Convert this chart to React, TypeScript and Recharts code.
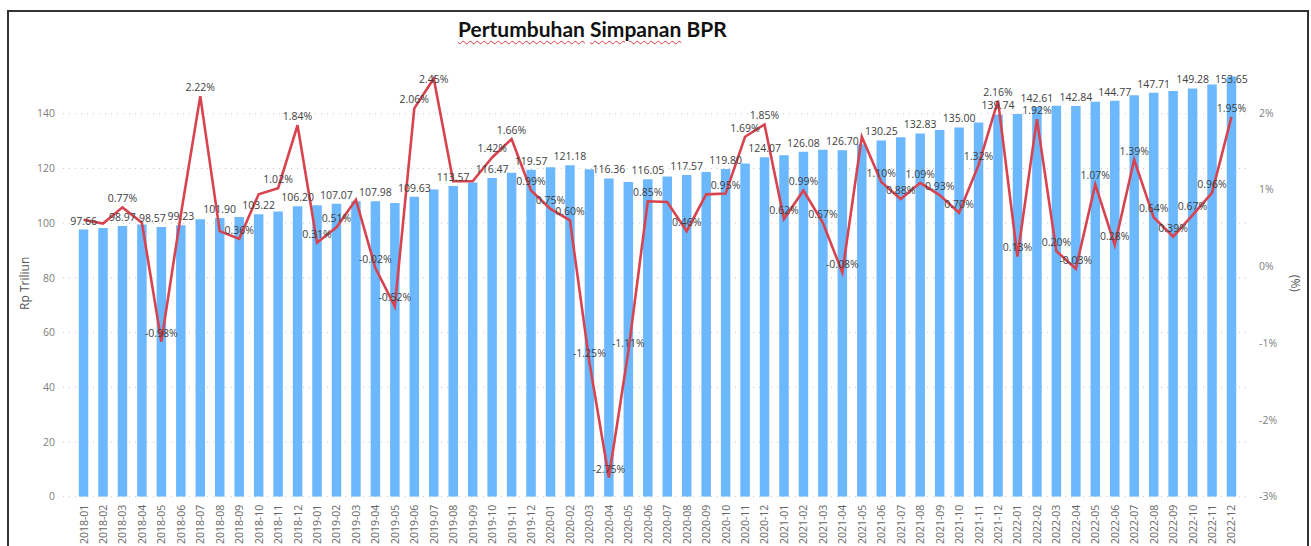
import React from 'react'
import {
  Bar,
  CartesianGrid,
  ComposedChart,
  LabelList,
  Line,
  XAxis,
  YAxis,
} from 'recharts'

const months = [
  '2018-01', '2018-02', '2018-03', '2018-04', '2018-05', '2018-06', '2018-07', '2018-08', '2018-09', '2018-10', '2018-11', '2018-12',
  '2019-01', '2019-02', '2019-03', '2019-04', '2019-05', '2019-06', '2019-07', '2019-08', '2019-09', '2019-10', '2019-11', '2019-12',
  '2020-01', '2020-02', '2020-03', '2020-04', '2020-05', '2020-06', '2020-07', '2020-08', '2020-09', '2020-10', '2020-11', '2020-12',
  '2021-01', '2021-02', '2021-03', '2021-04', '2021-05', '2021-06', '2021-07', '2021-08', '2021-09', '2021-10', '2021-11', '2021-12',
  '2022-01', '2022-02', '2022-03', '2022-04', '2022-05', '2022-06', '2022-07', '2022-08', '2022-09', '2022-10', '2022-11', '2022-12',
]

// simpanan, Rp triliun
const simpanan = [
  97.66, 98.22, 98.97, 99.53, 98.57, 99.23, 101.43, 101.9, 102.27, 103.22, 104.27, 106.2,
  106.53, 107.07, 108.0, 107.98, 107.42, 109.63, 112.32, 113.57, 114.83, 116.47, 118.4, 119.57,
  120.47, 121.18, 119.67, 116.36, 115.07, 116.05, 117.02, 117.57, 118.68, 119.8, 121.82, 124.07,
  124.84, 126.08, 126.8, 126.7, 128.84, 130.25, 131.4, 132.83, 134.07, 135.0, 136.78, 139.74,
  139.92, 142.61, 142.9, 142.84, 144.37, 144.77, 146.78, 147.71, 148.29, 149.28, 150.71, 153.65,
]

// pertumbuhan bulanan, %
const pertumbuhan = [
  0.61, 0.56, 0.77, 0.57, -0.98, 0.67, 2.22, 0.46, 0.36, 0.94, 1.02, 1.84,
  0.31, 0.51, 0.87, -0.02, -0.52, 2.06, 2.45, 1.11, 1.11, 1.42, 1.66, 0.99,
  0.75, 0.6, -1.25, -2.75, -1.11, 0.85, 0.84, 0.46, 0.94, 0.95, 1.69, 1.85,
  0.62, 0.99, 0.57, -0.08, 1.69, 1.1, 0.88, 1.09, 0.93, 0.7, 1.32, 2.16,
  0.13, 1.92, 0.2, -0.03, 1.07, 0.28, 1.39, 0.64, 0.39, 0.67, 0.96, 1.95,
]

// months whose labels are visible in the original
const barLabelMonths = [
  '2018-01', '2018-03', '2018-05', '2018-06', '2018-08', '2018-10', '2018-12',
  '2019-02', '2019-04', '2019-06', '2019-08', '2019-10', '2019-12',
  '2020-02', '2020-04', '2020-06', '2020-08', '2020-10', '2020-12',
  '2021-02', '2021-04', '2021-06', '2021-08', '2021-10', '2021-12',
  '2022-02', '2022-04', '2022-06', '2022-08', '2022-10', '2022-12',
]
const pctLabelHidden = [
  '2018-01', '2018-02', '2018-04', '2018-06', '2018-08', '2018-10',
  '2019-03', '2019-08', '2019-09', '2020-07', '2020-09', '2021-05',
]

const leftTicks = [0, 20, 40, 60, 80, 100, 120, 140]
const rightTicks = [-3, -2, -1, 0, 1, 2]

const data = months.map((month, i) => ({
  month,
  simpanan: simpanan[i],
  pertumbuhan: pertumbuhan[i],
}))

const FONT = "'Segoe UI', 'Open Sans', sans-serif"
const BAR_COLOR = '#6cb8ff'
const LINE_COLOR = '#d7434e'
const LABEL_COLOR = '#404040'
const TICK_COLOR = '#808080'
const TOP_LIMIT = 83

// power bi pushed this one sideways to dodge its neighbour
const barLabelNudge: Record<string, number> = { '2018-05': -9 }

function BarValueLabel(props: any) {
  const { x, y, width, value, index } = props
  const month = months[index]
  if (!barLabelMonths.includes(month)) return null
  return (
    <text
      x={x + width / 2 + (barLabelNudge[month] ?? 0)}
      y={Math.max(y - 5, TOP_LIMIT)}
      textAnchor="middle"
      fontSize={10.5}
      fontFamily={FONT}
      fill={LABEL_COLOR}
    >
      {Number(value).toFixed(2)}
    </text>
  )
}

function PctLabel(props: any) {
  const { x, y, value, index } = props
  if (pctLabelHidden.includes(months[index])) return null
  return (
    <text x={x} y={Math.max(y - 5, TOP_LIMIT)} textAnchor="middle" fontSize={10.5} fontFamily={FONT} fill={LABEL_COLOR}>
      {Number(value).toFixed(2)}%
    </text>
  )
}

function MonthTick({ x, y, payload }: any) {
  return (
    <text
      x={x}
      y={y}
      transform={`rotate(-90 ${x} ${y})`}
      textAnchor="end"
      dominantBaseline="central"
      fontSize={10.5}
      fontFamily={FONT}
      fill="#666"
    >
      {payload.value}
    </text>
  )
}

function LeftTitle({ viewBox }: any) {
  const cx = 25
  const cy = viewBox.y + viewBox.height / 2
  return (
    <text x={cx} y={cy} transform={`rotate(-90 ${cx} ${cy})`} textAnchor="middle" dominantBaseline="central" fontSize={12} fontFamily={FONT} fill="#555">
      Rp Triliun
    </text>
  )
}

function RightTitle({ viewBox }: any) {
  const cx = 1295
  const cy = viewBox.y + viewBox.height / 2
  return (
    <text x={cx} y={cy} transform={`rotate(90 ${cx} ${cy})`} textAnchor="middle" dominantBaseline="central" fontSize={12} fontFamily={FONT} fill="#555">
      (%)
    </text>
  )
}

const squiggle = {
  textDecorationLine: 'underline',
  textDecorationStyle: 'wavy' as const,
  textDecorationColor: '#e0393e',
  textDecorationThickness: '1px',
  textUnderlineOffset: '3px',
}

export default function App() {
  return (
    <div style={{ position: 'fixed', left: 0, top: 0, width: 1311, height: 546, background: '#fff', overflow: 'hidden' }}>
      <div
        style={{
          position: 'absolute',
          left: 7,
          top: 10,
          width: 1298,
          height: 600,
          borderTop: '2px solid #333',
          borderLeft: '2px solid #333',
          borderRight: '2px solid #333',
        }}
      />
      <div
        style={{
          position: 'absolute',
          left: 458,
          top: 16,
          fontFamily: 'Lato, Calibri, sans-serif',
          fontWeight: 700,
          fontSize: 21,
          color: '#111',
          whiteSpace: 'nowrap',
        }}
      >
        <span style={squiggle}>Pertumbuhan</span> <span style={squiggle}>Simpanan</span> BPR
      </div>
      <div style={{ position: 'absolute', left: 0, top: 0 }}>
        <ComposedChart width={1311} height={546} data={data} margin={{ top: 70, right: 8, bottom: 0, left: 18 }}>
          <CartesianGrid
            yAxisId="left"
            vertical={false}
            horizontalValues={leftTicks}
            stroke="#c8c8c8"
            strokeDasharray="1 5"
          />
          <XAxis
            dataKey="month"
            interval={0}
            height={49.3}
            axisLine={false}
            tickLine={false}
            padding={{ left: 10.8, right: 6.8 }}
            tick={<MonthTick />}
          />
          <YAxis
            yAxisId="left"
            width={45}
            domain={[0, 156]}
            ticks={leftTicks}
            allowDataOverflow
            axisLine={false}
            tickLine={false}
            tick={{ fill: TICK_COLOR, fontSize: 10.5, fontFamily: FONT }}
            label={<LeftTitle />}
          />
          <YAxis
            yAxisId="right"
            orientation="right"
            width={55}
            domain={[-3, 2.56]}
            ticks={rightTicks}
            allowDataOverflow
            axisLine={false}
            tickLine={false}
            tickMargin={5}
            tickFormatter={(v) => `${v}%`}
            tick={{ fill: TICK_COLOR, fontSize: 10.5, fontFamily: FONT, textAnchor: 'start' }}
            label={<RightTitle />}
          />
          <Bar yAxisId="left" dataKey="simpanan" fill={BAR_COLOR} barSize={9.5} isAnimationActive={false}>
            <LabelList dataKey="simpanan" content={<BarValueLabel />} />
          </Bar>
          <Line
            yAxisId="right"
            dataKey="pertumbuhan"
            type="linear"
            stroke={LINE_COLOR}
            strokeWidth={2.6}
            dot={false}
            activeDot={false}
            isAnimationActive={false}
          >
            <LabelList dataKey="pertumbuhan" content={<PctLabel />} />
          </Line>
        </ComposedChart>
      </div>
    </div>
  )
}
